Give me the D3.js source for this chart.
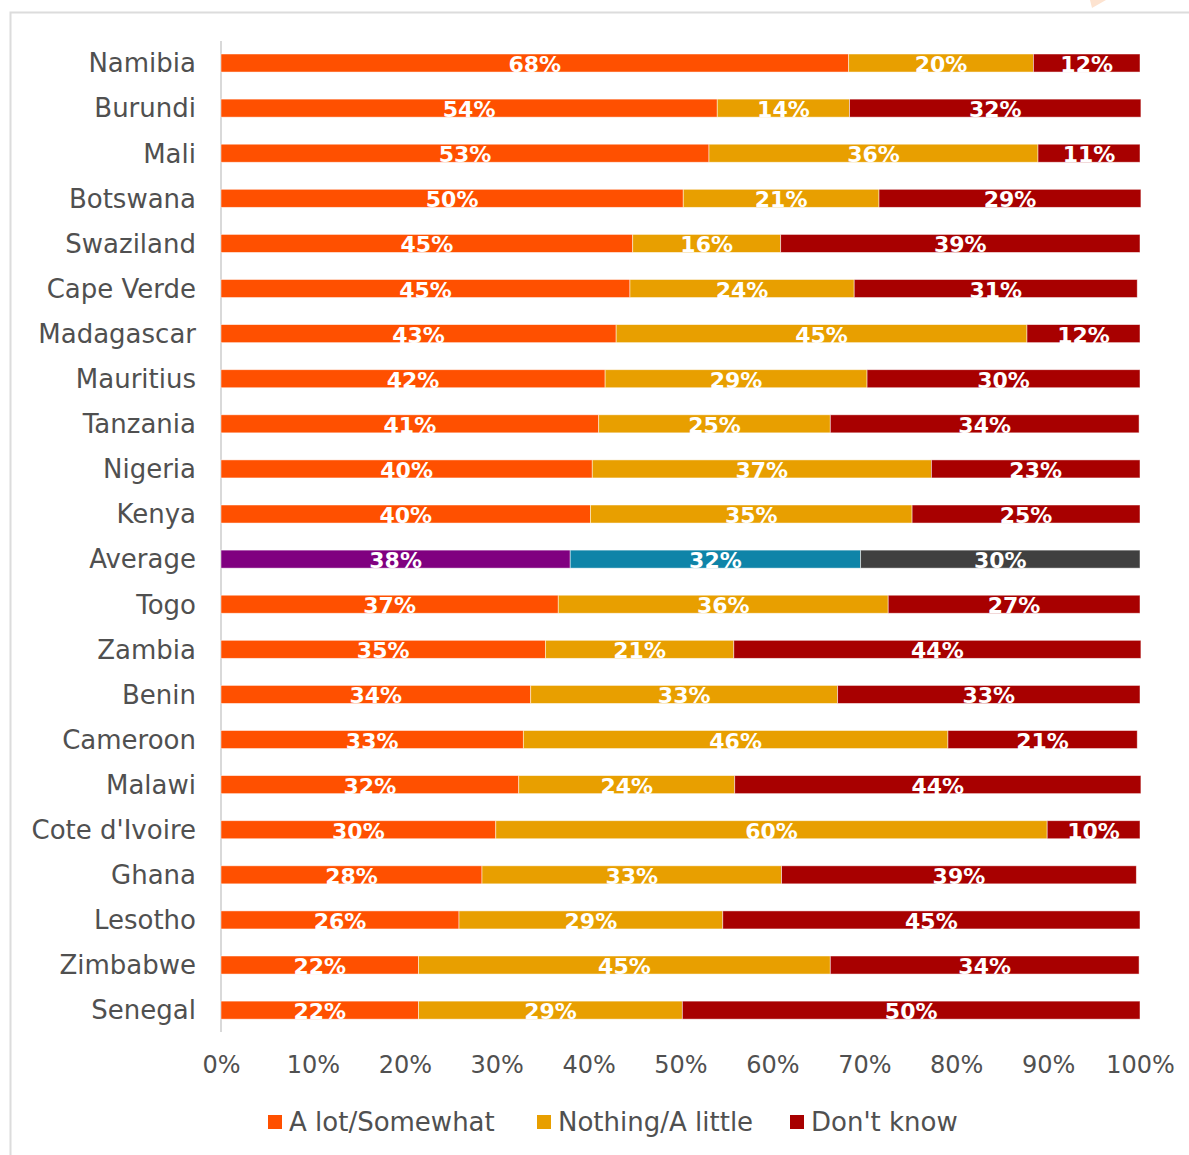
<!DOCTYPE html>
<html>
<head>
<meta charset="utf-8">
<script src="https://cdn.jsdelivr.net/npm/d3@7"></script>
<style>
  body { margin: 0; background: #fff; }
  svg { display: block; }
</style>
</head>
<body>
<svg id="chart" width="1189" height="1155"></svg>
<script>
const countries = ['Namibia', 'Burundi', 'Mali', 'Botswana', 'Swaziland', 'Cape Verde', 'Madagascar',
  'Mauritius', 'Tanzania', 'Nigeria', 'Kenya', 'Average', 'Togo', 'Zambia', 'Benin', 'Cameroon',
  'Malawi', "Cote d'Ivoire", 'Ghana', 'Lesotho', 'Zimbabwe', 'Senegal'];
const aLot = [68.3, 54.0, 53.1, 50.3, 44.8, 44.5, 43.0, 41.8, 41.1, 40.4, 40.2, 38.0, 36.7, 35.3, 33.7, 32.9, 32.4, 29.9, 28.4, 25.9, 21.5, 21.5];
const nothing = [20.1, 14.4, 35.8, 21.3, 16.1, 24.4, 44.7, 28.5, 25.2, 36.9, 35.0, 31.6, 35.9, 20.5, 33.4, 46.2, 23.5, 60.0, 32.6, 28.7, 44.8, 28.7];
const dontKnow = [11.6, 31.7, 11.1, 28.5, 39.1, 30.8, 12.3, 29.7, 33.6, 22.7, 24.8, 30.4, 27.4, 44.3, 32.9, 20.6, 44.2, 10.1, 38.6, 45.4, 33.6, 49.8];
const seriesNames = ['A lot/Somewhat', 'Nothing/A little', "Don't know"];
const xTicks = [0, 10, 20, 30, 40, 50, 60, 70, 80, 90, 100];

const colors = ['#ff5000', '#e89f00', '#a80000'];
const avgColors = ['#800080', '#0e84a8', '#404040'];
const textColor = '#505050';
const font = '"DejaVu Sans", sans-serif';

const svg = d3.select('#chart');

// slide frame + corner decoration
svg.append('rect')
  .attr('x', 10.5).attr('y', 12.5)
  .attr('width', 1250).attr('height', 1250)
  .attr('fill', 'none')
  .attr('stroke', '#dcdcdc')
  .attr('stroke-width', 2);
svg.append('polygon')
  .attr('points', '1090,0 1106,0 1092,8')
  .attr('fill', '#fde3d0');

const xScale = d3.scaleLinear().domain([0, 100]).range([221, 1140]);
const yScale = d3.scaleBand()
  .domain(countries)
  .range([31.45, 1041.7])
  .paddingInner(0.6)
  .paddingOuter(0.5);

const rows = countries.map((c, i) => {
  const vals = [aLot[i], nothing[i], dontKnow[i]];
  let x0 = 0;
  return vals.map((v, k) => {
    const seg = { country: c, k, v, x0, x1: x0 + v };
    x0 += v;
    return seg;
  });
}).flat();

// axis line on the left
svg.append('line')
  .attr('x1', xScale(0)).attr('x2', xScale(0))
  .attr('y1', 41).attr('y2', 1032)
  .attr('stroke', '#d9d9d9')
  .attr('stroke-width', 2);

const bars = svg.append('g');
bars.selectAll('rect')
  .data(rows)
  .enter()
  .append('rect')
  .attr('x', d => xScale(d.x0))
  .attr('y', d => yScale(d.country))
  .attr('width', d => xScale(d.x1) - xScale(d.x0))
  .attr('height', yScale.bandwidth())
  .attr('fill', d => d.country === 'Average' ? avgColors[d.k] : colors[d.k])
  .attr('stroke', '#fff')
  .attr('stroke-opacity', 0.6)
  .attr('stroke-width', 0.8);

bars.selectAll('text')
  .data(rows)
  .enter()
  .append('text')
  .attr('x', d => (xScale(d.x0) + xScale(d.x1)) / 2)
  .attr('y', d => yScale(d.country) + yScale.bandwidth())
  .attr('text-anchor', 'middle')
  .attr('fill', '#fff')
  .style('font-family', font)
  .style('font-weight', 'bold')
  .style('font-size', '22px')
  .text(d => Math.round(d.v) + '%');

// country labels
svg.append('g')
  .selectAll('text')
  .data(countries)
  .enter()
  .append('text')
  .attr('x', 196)
  .attr('y', d => yScale(d) + yScale.bandwidth() / 2)
  .attr('dy', '0.36em')
  .attr('text-anchor', 'end')
  .attr('fill', textColor)
  .style('font-family', font)
  .style('font-size', '26px')
  .text(d => d);

// x tick labels
const xAxis = d3.axisBottom(xScale)
  .tickValues(xTicks)
  .tickSize(0)
  .tickPadding(0)
  .tickFormat(d => d + '%');
const gX = svg.append('g')
  .attr('transform', 'translate(0,1056)')
  .call(xAxis);
gX.select('.domain').remove();
gX.selectAll('text')
  .attr('fill', textColor)
  .attr('dy', '0.71em')
  .style('font-family', font)
  .style('font-size', '24px');

// legend
const legendX = [268, 537, 790];
const legend = svg.append('g')
  .selectAll('g')
  .data(seriesNames)
  .enter()
  .append('g')
  .attr('transform', (d, i) => `translate(${legendX[i]},1122)`);
legend.append('rect')
  .attr('x', 0).attr('y', -7)
  .attr('width', 14).attr('height', 14)
  .attr('fill', (d, i) => colors[i]);
legend.append('text')
  .attr('x', 21)
  .attr('dy', '0.36em')
  .attr('fill', textColor)
  .style('font-family', font)
  .style('font-size', '26px')
  .text(d => d);
</script>
</body>
</html>
